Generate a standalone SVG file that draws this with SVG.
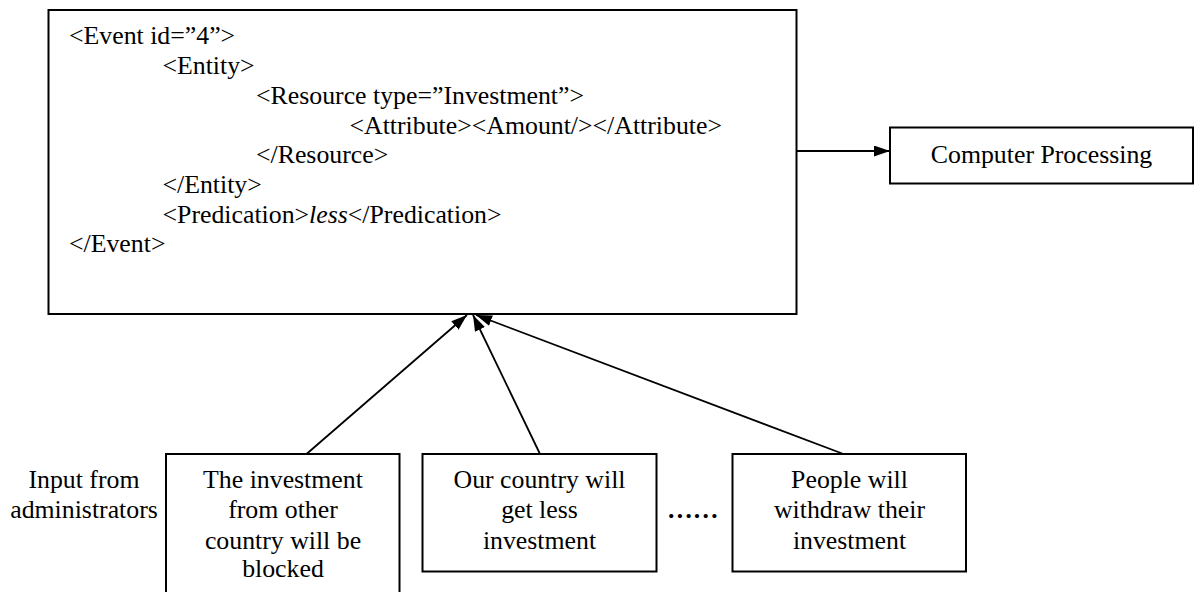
<svg xmlns="http://www.w3.org/2000/svg" width="1201" height="592" viewBox="0 0 1201 592">
  <style>
    .box { fill: #ffffff; stroke: #000000; stroke-width: 2; }
    .txt { font-family: 'Liberation Serif', 'DejaVu Serif', serif; font-size: 25.8px; fill: #000000; }
    .mid { text-anchor: middle; }
    .edge { stroke: #000000; stroke-width: 1.8; fill: none; marker-end: url(#arrow); }
  </style>
  <defs>
    <marker id="arrow" viewBox="0 0 16 11" refX="16" refY="5.5" markerWidth="16" markerHeight="11" markerUnits="userSpaceOnUse" orient="auto">
      <path d="M0,0 L16,5.5 L0,11 Z" fill="#000000"/>
    </marker>
  </defs>

  <rect width="1201" height="592" fill="#ffffff"/>

  <!-- event description -->
  <g id="event">
    <rect class="box" x="48.5" y="10" width="748" height="304"/>
    <text class="txt" x="69" y="44">&lt;Event id=”4”&gt;</text>
    <text class="txt" x="162.5" y="74">&lt;Entity&gt;</text>
    <text class="txt" x="256" y="104">&lt;Resource type=”Investment”&gt;</text>
    <text class="txt" x="349.5" y="133.5">&lt;Attribute&gt;&lt;Amount/&gt;&lt;/Attribute&gt;</text>
    <text class="txt" x="256" y="163">&lt;/Resource&gt;</text>
    <text class="txt" x="162.5" y="193">&lt;/Entity&gt;</text>
    <text class="txt" x="162.5" y="222.5">&lt;Predication&gt;<tspan font-style="italic">less</tspan>&lt;/Predication&gt;</text>
    <text class="txt" x="69" y="252">&lt;/Event&gt;</text>
  </g>

  <!-- downstream processing -->
  <g id="processing">
    <rect class="box" x="890" y="127.5" width="303" height="56"/>
    <text class="txt mid" x="1041.5" y="163">Computer Processing</text>
  </g>

  <!-- side label -->
  <g id="input-label">
    <text class="txt mid" x="84" y="487.5">Input from</text>
    <text class="txt mid" x="84" y="518">administrators</text>
  </g>

  <!-- administrator inputs -->
  <g id="input-1">
    <rect class="box" x="166" y="454" width="233.5" height="150"/>
    <text class="txt mid" x="283" y="487.5">The investment</text>
    <text class="txt mid" x="283" y="518">from other</text>
    <text class="txt mid" x="283" y="548.5">country will be</text>
    <text class="txt mid" x="283" y="577">blocked</text>
  </g>

  <g id="input-2">
    <rect class="box" x="422.5" y="454" width="234" height="117.5"/>
    <text class="txt mid" x="539.5" y="487.5">Our country will</text>
    <text class="txt mid" x="539.5" y="518">get less</text>
    <text class="txt mid" x="539.5" y="548.5">investment</text>
  </g>

  <g id="ellipsis">
    <text class="txt" x="667" y="518" font-weight="bold">……</text>
  </g>

  <g id="input-3">
    <rect class="box" x="732.5" y="454" width="233.5" height="117.5"/>
    <text class="txt mid" x="849.5" y="487.5">People will</text>
    <text class="txt mid" x="849.5" y="518">withdraw their</text>
    <text class="txt mid" x="849.5" y="548.5">investment</text>
  </g>

  <!-- connectors -->
  <g id="connectors">
    <line class="edge" x1="797" y1="151" x2="890" y2="151"/>
    <line class="edge" x1="306.5" y1="454" x2="467" y2="315"/>
    <line class="edge" x1="540" y1="454" x2="473" y2="315"/>
    <line class="edge" x1="843.5" y1="454" x2="476" y2="315"/>
  </g>
</svg>
